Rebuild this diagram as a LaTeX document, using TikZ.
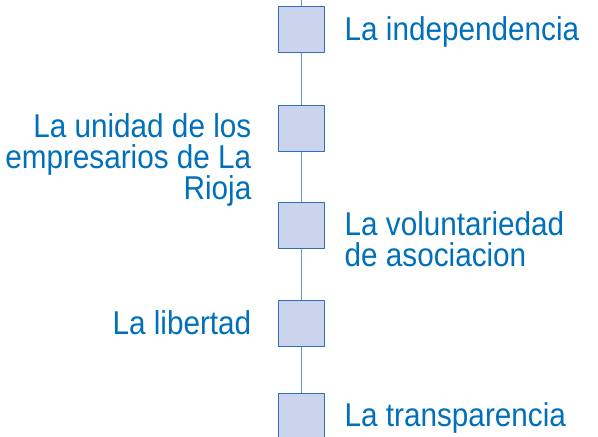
\documentclass[tikz,border=0pt]{standalone}
\usepackage{fontspec}
\setmainfont[FakeStretch=0.9]{Liberation Sans}
\definecolor{txtblue}{RGB}{0,112,186}
\definecolor{boxfill}{RGB}{204,211,236}
\definecolor{boxline}{RGB}{45,112,190}
\definecolor{connline}{RGB}{95,152,215}
\begin{document}
\begin{tikzpicture}[x=1pt,y=1pt,line join=round,
		box/.style={draw=boxline,fill=boxfill,line width=1pt,minimum size=46pt,inner sep=0pt},
		conn/.style={draw=connline,line width=1pt},
		lbl/.style={text=txtblue,inner sep=0pt,font=\fontsize{33}{31}\selectfont}]
			\useasboundingbox (0,0) rectangle (598,437);
			\coordinate (top) at (301,437);
			\foreach \n/\y in {1/407,2/308.7,3/211.7,4/113.5,5/20.3}
				\node[box] (s\n) at (301,\y) {};
			\draw[conn] (top) -- (s1) -- (s2) -- (s3) -- (s4) -- (s5);
			
			% multi-line labels: base = last line
			\node[lbl,anchor=base west] (t1) at ([xshift=20pt,yshift=-11pt]s1.east) {La independencia};
			\node[lbl,anchor=base east,align=right] (t2) at ([xshift=-26pt,yshift=-71pt]s2.west) {La unidad de los\\empresarios de La\\Rioja};
			\node[lbl,anchor=base west,align=left] (t3) at ([xshift=20pt,yshift=-41pt]s3.east) {La voluntariedad\\de asociacion};
			\node[lbl,anchor=base east] (t4) at ([xshift=-26pt,yshift=-11pt]s4.west) {La libertad};
			\node[lbl,anchor=base west] (t5) at ([xshift=20pt,yshift=-10pt]s5.east) {La transparencia};
		\end{tikzpicture}
\end{document}
